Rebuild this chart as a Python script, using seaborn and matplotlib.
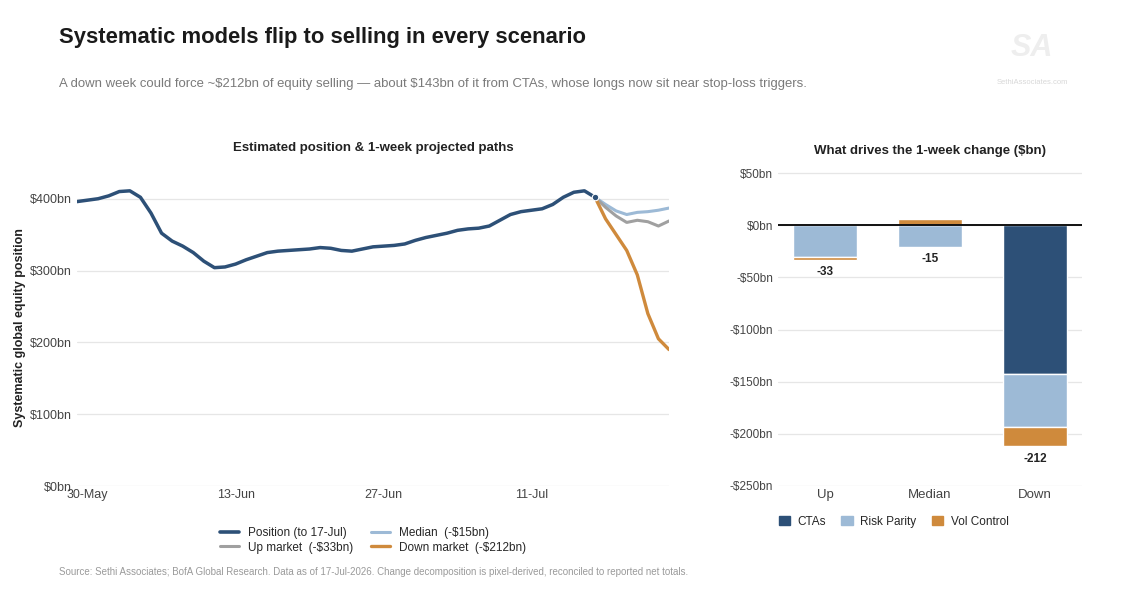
import numpy as np
import pandas as pd
import matplotlib
matplotlib.use("Agg")
import matplotlib.pyplot as plt
import matplotlib.dates as mdates
from matplotlib.patches import Patch
from matplotlib.lines import Line2D
import seaborn as sns

# --- datos ---
pos_dates = pd.date_range("2026-05-29", "2026-07-17", freq="D")
pos_values = [396, 398, 400, 404, 410, 411, 402, 380, 352, 341,
              334, 325, 313, 304, 305, 309, 315, 320, 325, 327,
              328, 329, 330, 332, 331, 328, 327, 330, 333, 334,
              335, 337, 342, 346, 349, 352, 356, 358, 359, 362,
              370, 378, 382, 384, 386, 392, 402, 409, 411, 402]

proj_dates = pd.date_range("2026-07-17", "2026-07-24", freq="D")
median_path = [402, 392, 383, 378, 381, 382, 384, 387]
up_path = [402, 388, 376, 367, 370, 368, 362, 369]
down_path = [402, 372, 350, 328, 294, 240, 205, 190]

scenarios = ["Up", "Median", "Down"]
ctas = [0, 0, -143]
risk_parity = [-30, -21, -50]
vol_control = [-3, 6, -19]
net_totals = [-33, -15, -212]

NAVY = "#2d5077"
LIGHT = "#9dbad6"
GREY = "#a0a0a0"
ORANGE = "#cf8a3c"

sns.set_style("white")
plt.rcParams["font.family"] = ["Liberation Sans", "DejaVu Sans"]
plt.rcParams["lines.solid_joinstyle"] = "round"
plt.rcParams["lines.solid_capstyle"] = "round"

fig = plt.figure(figsize=(11.26, 6.08), dpi=100)

# textos de cabecera
fig.text(59 / 1126, 1 - 38 / 608, "Systematic models flip to selling in every scenario",
         fontsize=15.8, fontweight="bold", color="#1a1a1a", va="center")
fig.text(59 / 1126, 1 - 84 / 608,
         "A down week could force ~\\$212bn of equity selling \u2014 about \\$143bn of it from CTAs, "
         "whose longs now sit near stop-loss triggers.",
         fontsize=9.45, color="#7a7a7a", va="center")
fig.text(1032 / 1126, 1 - 83 / 608, "SethiAssociates.com", fontsize=5.5, color="#d8d8d8",
         ha="center", va="center")
fig.text(1032 / 1126, 1 - 48 / 608, "SA", fontsize=22, fontweight="bold", color="#eeeeee",
         ha="center", va="center", style="italic")
fig.text(59 / 1126, 1 - 572 / 608,
         "Source: Sethi Associates; BofA Global Research. Data as of 17-Jul-2026. "
         "Change decomposition is pixel-derived, reconciled to reported net totals.",
         fontsize=7, color="#9a9a9a", va="center")

# --- panel izquierdo: posicion y trayectorias ---
ax1 = fig.add_axes([77 / 1126, 122 / 608, 592 / 1126, 316 / 608])
sns.lineplot(x=pos_dates, y=pos_values, ax=ax1, color=NAVY, lw=2.5)
sns.lineplot(x=proj_dates, y=median_path, ax=ax1, color=LIGHT, lw=2.2)
sns.lineplot(x=proj_dates, y=up_path, ax=ax1, color=GREY, lw=2.2)
sns.lineplot(x=proj_dates, y=down_path, ax=ax1, color=ORANGE, lw=2.4)
ax1.scatter([pos_dates[-1]], [pos_values[-1]], s=22, color=NAVY, edgecolor="white",
            linewidth=0.8, zorder=5)

ax1.set_xlim(pos_dates[0], proj_dates[-1])
ax1.set_ylim(0, 440)
ax1.set_yticks([0, 100, 200, 300, 400])
ax1.set_yticklabels([f"${v}bn" for v in [0, 100, 200, 300, 400]])
ax1.set_xticks(pd.to_datetime(["2026-05-30", "2026-06-13", "2026-06-27", "2026-07-11"]))
ax1.xaxis.set_major_formatter(mdates.DateFormatter("%d-%b"))
ax1.grid(axis="y", color="#e6e6e6", lw=0.9)
ax1.grid(axis="x", visible=False)
for s in ax1.spines.values():
    s.set_visible(False)
ax1.tick_params(axis="both", length=0, labelsize=9, colors="#444444")
ax1.tick_params(axis="x", pad=2)
ax1.set_ylabel("Systematic global equity position", fontsize=9, fontweight="bold",
               color="#222222", labelpad=3)
ax1.set_xlabel("")
ax1.set_title("Estimated position & 1-week projected paths", fontsize=9.5,
              fontweight="bold", color="#222222", pad=14)

handles = [Line2D([], [], color=NAVY, lw=2.6), Line2D([], [], color=GREY, lw=2.2),
           Line2D([], [], color=LIGHT, lw=2.2), Line2D([], [], color=ORANGE, lw=2.4)]
labels = ["Position (to 17-Jul)", "Up market  (-$33bn)", "Median  (-$15bn)",
          "Down market  (-$212bn)"]
ax1.legend(handles, labels, ncol=2, frameon=False, fontsize=8.5, loc="upper center",
           bbox_to_anchor=(0.5, -0.095), handlelength=1.6, columnspacing=1.5,
           labelspacing=0.25)

# --- panel derecho: descomposicion ---
ax2 = fig.add_axes([778 / 1126, 122 / 608, 304 / 1126, 318 / 608])
x = np.arange(len(scenarios))
pos_base = np.zeros(len(scenarios))
neg_base = np.zeros(len(scenarios))
for vals, col, name in [(ctas, NAVY, "CTAs"), (risk_parity, LIGHT, "Risk Parity"),
                        (vol_control, ORANGE, "Vol Control")]:
    vals = np.array(vals, dtype=float)
    bottom = np.where(vals >= 0, pos_base, neg_base)
    ax2.bar(x, vals, bottom=bottom, width=0.61, color=col, label=name, zorder=3)
    pos_base = pos_base + np.where(vals > 0, vals, 0)
    neg_base = neg_base + np.where(vals < 0, vals, 0)

for xi, tot, nb in zip(x, net_totals, neg_base):
    ax2.text(xi, nb - 6, f"{tot}", ha="center", va="top", fontsize=8.5,
             fontweight="bold", color="#222222")

ax2.axhline(0, color="#111111", lw=1.4, zorder=4)
ax2.set_xlim(-0.45, 2.45)
ax2.set_ylim(-250, 55)
yt = [50, 0, -50, -100, -150, -200, -250]
ax2.set_yticks(yt)
ax2.set_yticklabels([f"${v}bn" if v >= 0 else f"-${-v}bn" for v in yt])
ax2.set_xticks(x)
ax2.set_xticklabels(scenarios)
ax2.grid(axis="y", color="#e6e6e6", lw=0.9, zorder=0)
ax2.grid(axis="x", visible=False)
for s in ax2.spines.values():
    s.set_visible(False)
ax2.tick_params(axis="y", length=0, labelsize=8.5, colors="#444444")
ax2.tick_params(axis="x", length=0, labelsize=9.5, colors="#444444", pad=2)
ax2.set_title("What drives the 1-week change ($bn)", fontsize=9.5, fontweight="bold",
              color="#222222", pad=10)
leg_h = [Patch(color=NAVY), Patch(color=LIGHT), Patch(color=ORANGE)]
ax2.legend(leg_h, ["CTAs", "Risk Parity", "Vol Control"], ncol=3, frameon=False,
           fontsize=8.5, loc="upper center", bbox_to_anchor=(0.38, -0.06),
           handlelength=1.0, handleheight=0.8, columnspacing=1.3, handletextpad=0.6)

fig.savefig("out.png", dpi=100, facecolor="white")
